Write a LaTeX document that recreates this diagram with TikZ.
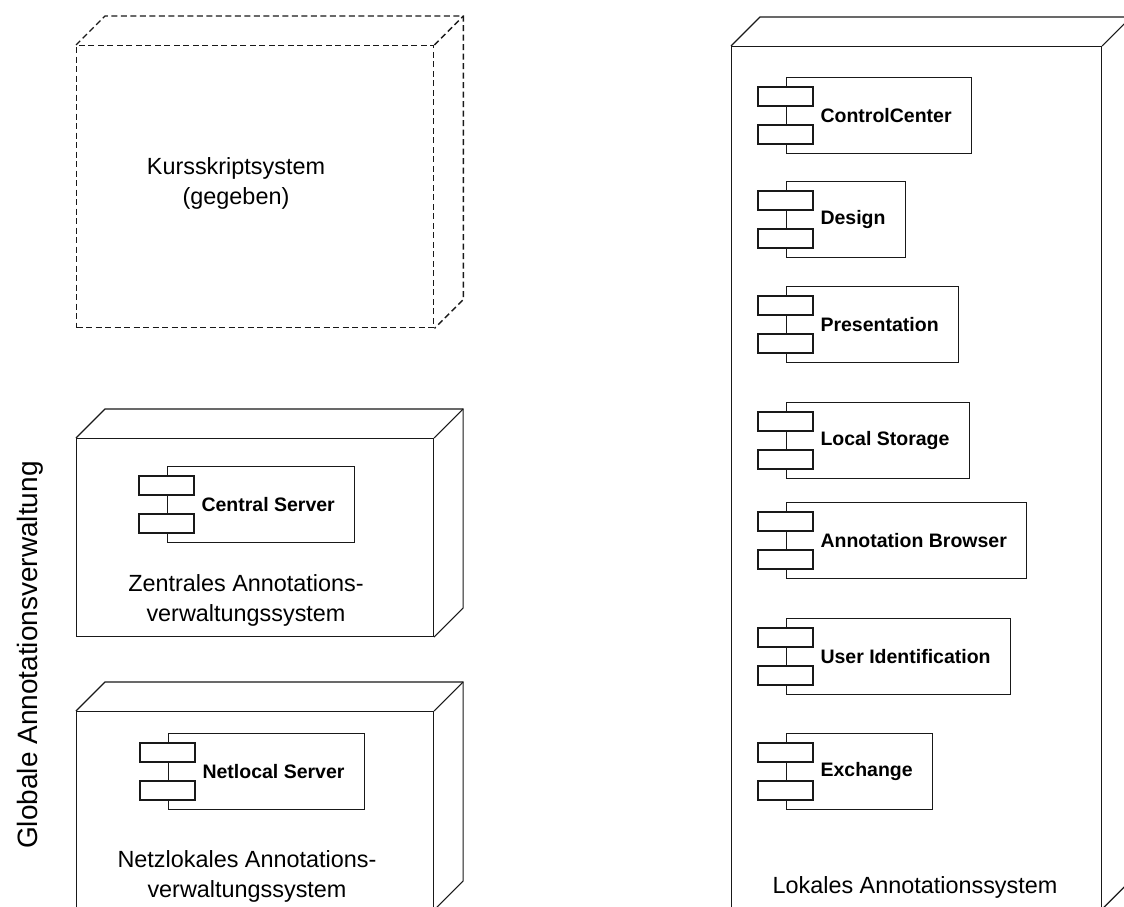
\documentclass[tikz,border=0pt]{standalone}
\usepackage{fontspec}
\setmainfont{Liberation Sans}

% Deployment box: front face is a named node, the top and side faces are drawn from its anchors
\newcommand{\nodebox}[2]{%
  \draw[edge,#2] (#1.north west) -- ++(29pt,29pt)
    -- ([shift={(29pt,29pt)}]#1.north east)
    -- ([shift={(29pt,29pt)}]#1.south east) -- (#1.south east);
  \draw[edge,#2] (#1.north east) -- ++(29pt,29pt);
}
% UML component: body with label and the two small tabs on its left edge
\newcommand{\umlcomp}[4]{%
  \node[comp] (#1) at (#2,#3) {\hspace*{14pt}#4};
  \draw[tab] ([shift={(-28pt,-10pt)}]#1.north west) rectangle ++(55pt,-19pt);
  \draw[tab] ([shift={(-28pt,-48pt)}]#1.north west) rectangle ++(55pt,-19pt);
}

\begin{document}
\begin{tikzpicture}[x=1pt,y=-1pt,
  edge/.style={line width=1.1pt, draw=black!90},
  frontface/.style={edge, anchor=north west, inner sep=0pt},
  dashface/.style={line width=1.4pt, dash pattern=on 6pt off 3.5pt},
  comp/.style={edge, anchor=north west, minimum height=76pt, inner xsep=20pt, inner ysep=0pt,
    text=black, font=\fontsize{19.5}{23}\selectfont\bfseries},
  tab/.style={edge, fill=white},
  caption/.style={font=\fontsize{23.4}{30}\selectfont, align=center, inner sep=0pt, text=black},
]
\useasboundingbox (0,0) rectangle (1124,907);
\clip (0,0) rectangle (1124,907);

% Kursskriptsystem (dashed, given)
\node[frontface, dashface, minimum width=357pt, minimum height=282pt] (kurs) at (76,45) {};
\nodebox{kurs}{dashface}
\node[caption] (kurslabel) at (236,183) {Kursskriptsystem\\(gegeben)};

% Central annotation management
\node[frontface, minimum width=357pt, minimum height=198pt] (zentral) at (76,438) {};
\nodebox{zentral}{}
\umlcomp{central}{167}{466}{Central Server}
\node[caption] (zentrallabel) at (246,600) {Zentrales Annotations-\\verwaltungssystem};

% Net-local annotation management
\node[frontface, minimum width=357pt, minimum height=198pt] (netz) at (76,711) {};
\nodebox{netz}{}
\umlcomp{netlocal}{168}{733}{Netlocal Server}
\node[caption] (netzlabel) at (247,876) {Netzlokales Annotations-\\verwaltungssystem};

% Local annotation system
\node[frontface, minimum width=370pt, minimum height=862pt] (lokal) at (731,46) {};
\nodebox{lokal}{}
\umlcomp{control}{786}{77}{ControlCenter}
\umlcomp{design}{786}{181}{Design}
\umlcomp{present}{786}{286}{Presentation}
\umlcomp{storage}{786}{402}{Local Storage}
\umlcomp{browser}{786}{502}{Annotation Browser}
\umlcomp{userid}{786}{618}{User Identification}
\umlcomp{exchange}{786}{733}{Exchange}
\node[caption, anchor=base] (lokallabel) at (915,893) {Lokales Annotationssystem};

% Side label
\node[caption, rotate=90, anchor=base, font=\fontsize{28}{34}\selectfont] (global) at (37,655) {Globale Annotationsverwaltung};
\end{tikzpicture}
\end{document}
